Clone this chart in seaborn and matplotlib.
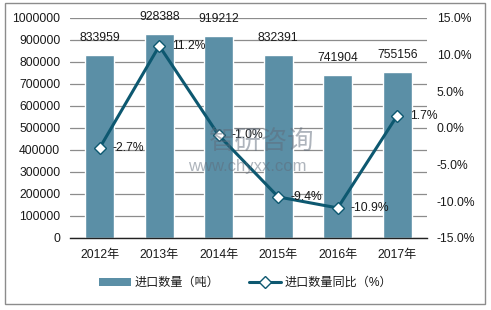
import matplotlib
matplotlib.use("Agg")
import matplotlib.pyplot as plt
import seaborn as sns
import numpy as np
import pandas as pd
from matplotlib.lines import Line2D
from matplotlib.patches import Patch, Rectangle

years = ["2012年", "2013年", "2014年", "2015年", "2016年", "2017年"]
volume = [833959, 928388, 919212, 832391, 741904, 755156]
yoy = [-2.7, 11.2, -1.0, -9.4, -10.9, 1.7]
yoy_labels = ["-2.7%", "11.2%", "-1.0%", "-9.4%", "-10.9%", "1.7%"]
left_ticks = [0, 100000, 200000, 300000, 400000, 500000, 600000, 700000, 800000, 900000, 1000000]
right_ticks = [-15, -10, -5, 0, 5, 10, 15]
legend_bar = "进口数量（吨）"
legend_line = "进口数量同比（%）"
watermark_cn = "智研咨询"
watermark_url = "www.chyxx.com"

sns.set_theme(style="white")
plt.rcParams['font.family'] = ['Liberation Sans', 'Noto Sans CJK SC', 'DejaVu Sans']

bar_color = "#5b8fa6"
line_color = "#0d5870"
text_color = "#1a1a1a"

fig = plt.figure(figsize=(4.91, 3.10), dpi=100)
fig.patch.set_facecolor("white")
ax = fig.add_axes([70/491, 1-238/310, (427-70)/491, (238-18)/310])

df = pd.DataFrame({"year": years, "volume": volume})
sns.barplot(data=df, x="year", y="volume", color=bar_color, width=0.49, ax=ax,
            saturation=1, zorder=2)
ax.set_ylim(0, 1000000)
ax.set_xlim(-0.5, 5.5)
ax.set_yticks(left_ticks)
ax.set_yticklabels([str(t) for t in left_ticks])
ax.yaxis.grid(True, color="#8c8c8c", linewidth=0.9, zorder=0)
ax.set_axisbelow(True)
for s in ["top", "right", "left"]:
    ax.spines[s].set_visible(False)
ax.spines["bottom"].set_color("#222222")
ax.spines["bottom"].set_linewidth(1.0)
ax.tick_params(axis="both", length=0, labelsize=8.7, colors=text_color, pad=7)
ax.tick_params(axis="x", pad=8)
ax.set_xlabel("")
ax.set_ylabel("")

for i, v in enumerate(volume):
    ax.annotate(str(v), (i, v), xytext=(0, 12), textcoords="offset points",
                ha="center", va="center", fontsize=8.7, color=text_color, zorder=5)

ax2 = ax.twinx()
sns.lineplot(x=np.arange(len(yoy)), y=yoy, ax=ax2, color=line_color, linewidth=2.2,
             marker="D", markersize=6.5, markerfacecolor="white",
             markeredgecolor=line_color, markeredgewidth=1.0, zorder=4)
ax2.set_ylim(-15, 15)
ax2.set_xlim(-0.5, 5.5)
ax2.set_yticks(right_ticks)
ax2.set_yticklabels([f"{t:.1f}%" for t in right_ticks])
for s in ["top", "right", "left", "bottom"]:
    ax2.spines[s].set_visible(False)
ax2.tick_params(axis="y", length=0, labelsize=8.7, colors=text_color, pad=7)
ax2.grid(False)
ax2.set_ylabel("")

for i, (v, lab) in enumerate(zip(yoy, yoy_labels)):
    ax2.annotate(lab, (i, v), xytext=(9, 0), textcoords="offset points",
                 ha="left", va="center", fontsize=8.7, color=text_color, zorder=6)

# watermark
fig.text(262/491, 1-141/310, watermark_cn, fontsize=19, color="#5f6b7a", alpha=0.5,
         ha="center", va="center", family=['Noto Sans CJK SC'], zorder=10)
fig.text(247/491, 1-167/310, watermark_url, fontsize=12, color="#5f6b7a", alpha=0.5,
         ha="center", va="center", zorder=10)

handles = [Patch(facecolor=bar_color, edgecolor="none"),
           Line2D([0], [0], color=line_color, linewidth=2.2, marker="D", markersize=6,
                  markerfacecolor="white", markeredgecolor=line_color)]
fig.legend(handles, [legend_bar, legend_line], loc="center", ncol=2,
           bbox_to_anchor=(0.50, 1-283/310), frameon=False, fontsize=8.7,
           handlelength=2.6, handletextpad=0.3, columnspacing=2.5, labelcolor=text_color)

fig.add_artist(Rectangle((5/491, 1-304/310), 480/491, 301/310, transform=fig.transFigure,
                         fill=False, edgecolor="#8c8c8c", linewidth=1.0))

fig.savefig("out.png", dpi=100)
